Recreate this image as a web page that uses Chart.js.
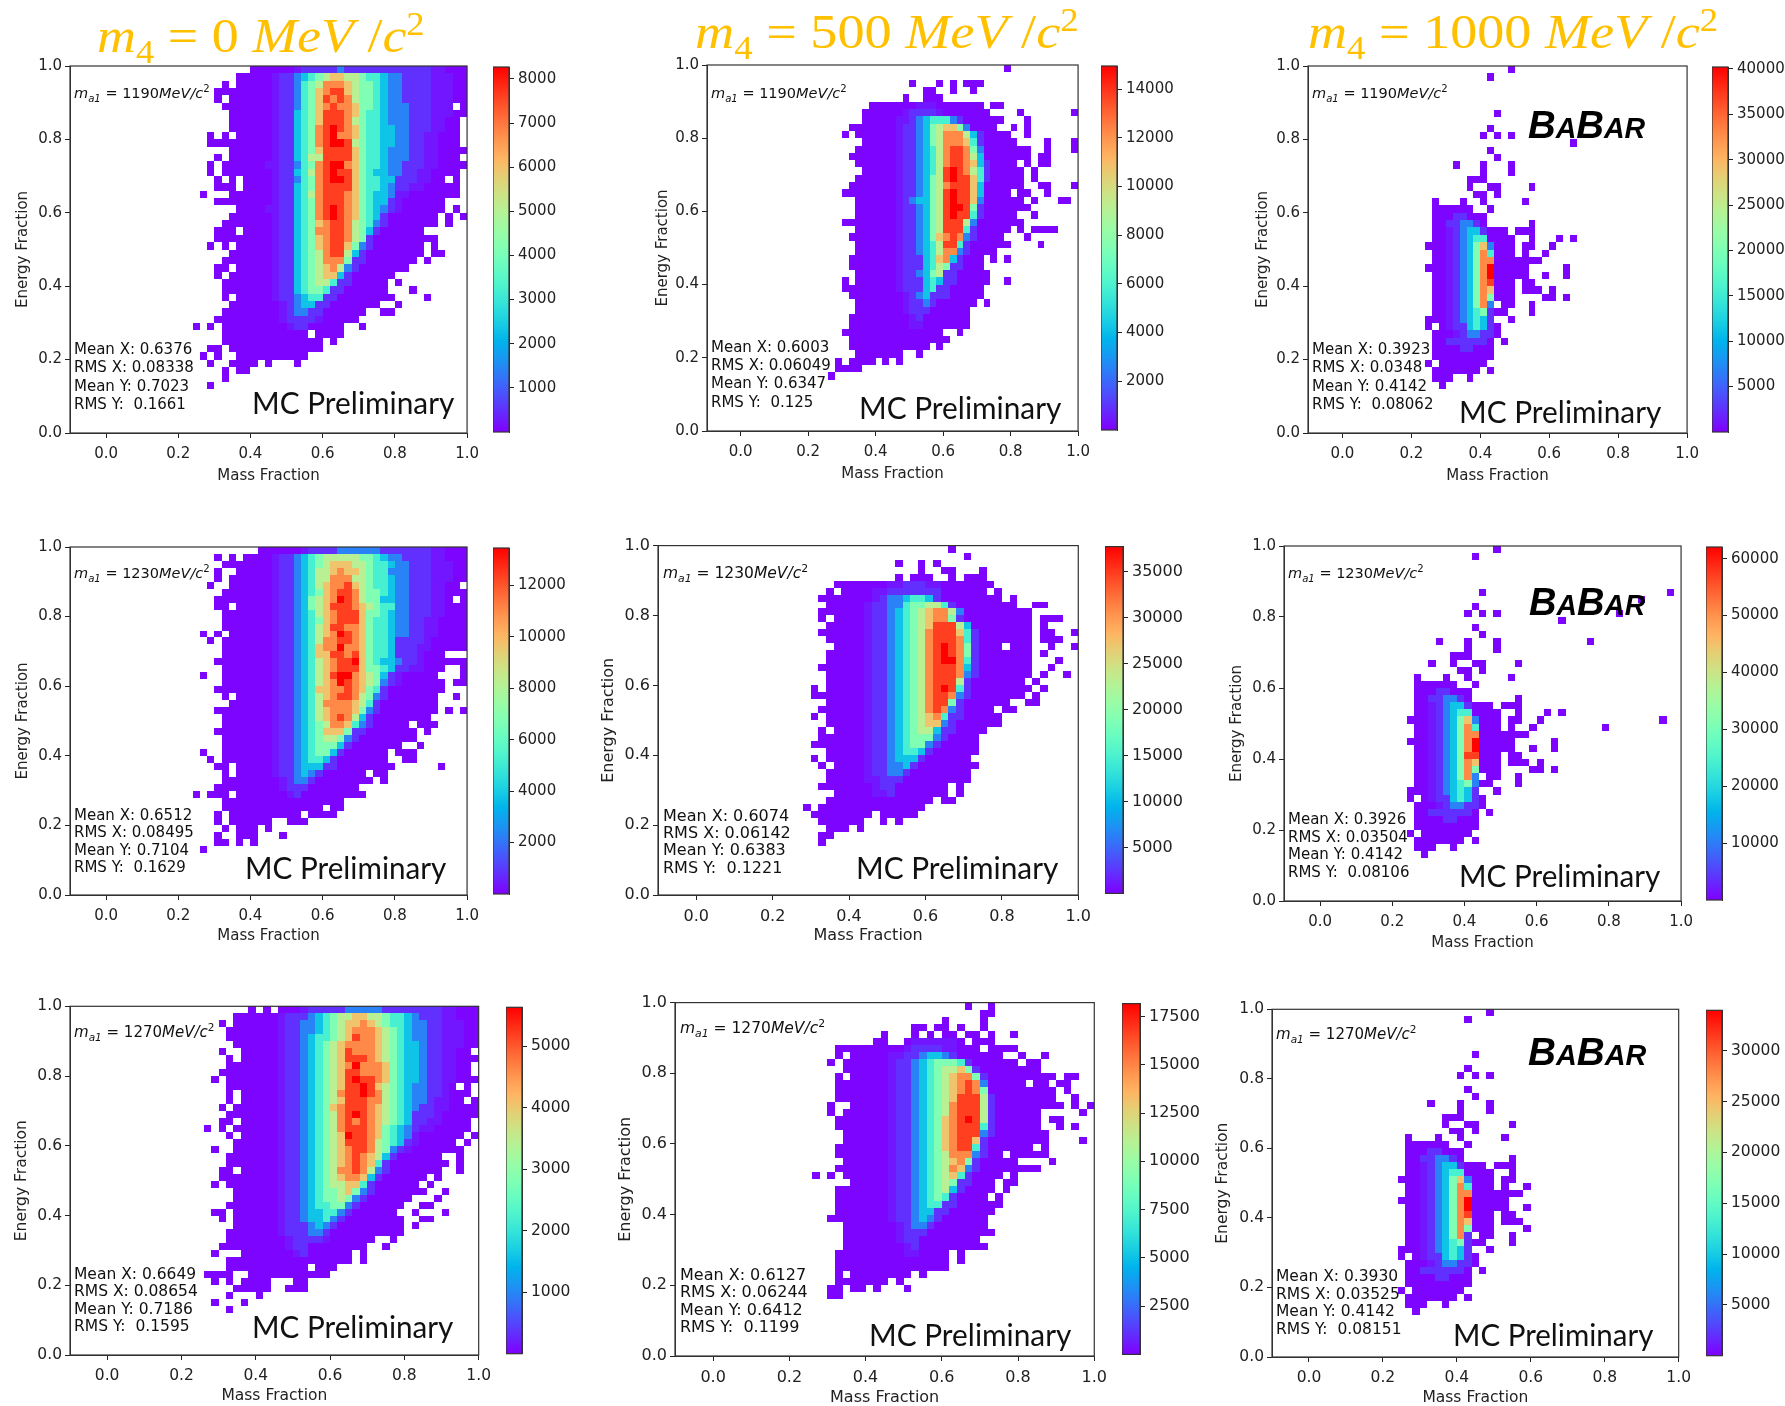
<!DOCTYPE html>
<html>
<head>
<meta charset="utf-8">
<title>Mass and energy fraction</title>
<script src="https://cdn.jsdelivr.net/npm/chart.js@4"></script>
<style>
html, body { margin: 0; padding: 0; background: #fff; }
#page { position: relative; width: 1785px; height: 1406px; overflow: hidden; }
canvas { position: absolute; }
.txt { position: absolute; white-space: pre; color: #111; font-family: "DejaVu Sans", sans-serif; transform-origin: left center; }
.txt sub, .txt sup { font-size: 70%; line-height: 0; }
.mc { font-family: Lato, "Open Sans", sans-serif; font-size: 31px; }
.head { font-family: "Liberation Serif", serif; font-size: 49px; color: #ffc000; }
.head sub, .head sup { font-size: 68%; }
.babar { font-family: "Liberation Sans", sans-serif; font-weight: bold; font-style: italic; font-size: 39px; color: #000; }
.babar small { font-size: 29px; }
</style>
</head>
<body>
<div id="page"></div>
<script>
// cell levels, one string per energy bin from the top (0.98-1.00) down
// columns are mass bins 0.24-1.00, grouped 12-19, 20-29, 30-39, 40-49; '.' = empty bin
// a character (hex) indexes levelShare below, which gives the share of the panel maximum
var levelShare = [0.005, 0.06, 0.17, 0.28, 0.39, 0.5, 0.61, 0.72, 0.82, 0.92, 1, 0.028];

var rows1190m0 = [
"........ 000000B111 1121111111 11111BB000",
"......00 000B112345 6776654432 21111BBB00",
"....0.00 000B112456 8887655432 21111BBB00",
"...00000 000B112457 8997655432 21111BBB00",
"...0.000 000B112457 9898655432 21111BBB00",
"....0000 000B112457 8988755432 22111BBB.0",
".....000 000B113457 9998754432 22111BBB00",
".....000 000B113457 9998654432 22111BB00.",
".....000 000B113458 9A98754433 22111BB00.",
"..0.0.00 000B113458 9A88754433 2211BB000.",
"..000000 000B113458 9AA9654433 2211BB000.",
".....000 000B113457 9999754432 2211BB0000",
"...0.000 000B113466 9999754432 2211BB000.",
"..0.0000 00BB112458 9AA8754432 2111BB0000",
"..0.0000 000B113468 9A99754332 211BB0000.",
"...0.0.0 000B112458 9AA9754433 111BB00.0.",
"...000.0 000B113458 9999754432 11BB00000.",
".0...000 000B113468 9998754332 BB0000000.",
"...00000 000B113458 9998754331 B000000...",
"......00 00BB113458 9A98754321 B000000.0.",
".....000 000B113458 9A98754310 000000.0.0",
"....0000 000B113457 8998654210 000000.0..",
"...000.0 000B113458 8998653100 0000......",
"...00000 000B113457 8998651000 000000....",
"..0.0.00 000B113457 8997521000 0000.0....",
".....000 000B113456 8996310000 0000.00...",
"....0000 000B113456 8885110000 000.0.....",
"...00.00 000B113456 7862100000 00........",
"...0.000 000B113456 7731000000",
"....0000 000B113456 641100000. 0",
"....0000 000B113455 411000000. ..0",
"....0.00 000B112344 1100000000 ....0",
".....000 0000B12331 10000000.. 0",
"....0000 0000B12211 000000..00",
"...00000 0000B1111B 00000",
"0.0.0000 00000B1100 000..0",
"....0000 00000000.0 000",
"....0000 0000000000 .0",
"..00.000 0000000000",
".0.0..00 00000000",
"..0..000 0.0...0",
"....0.00",
"....0",
"..0"
];
var rows1190m500 = [
"........ .......... .........0",
"",
"........ .....0...0 .0.000",
"........ .......00. .0..0",
"........ ....0..000",
".......0 000000BBB0 000000.00.",
"......00 0000B1111B 0000000... .0.......0",
"......00 000BB12344 421000000. ..0",
"....0000 000B112356 77520000.. 0.0",
"...0.000 000B112356 8886310000 ..0",
"......00 000B112356 8887410000 0....0...0",
".....000 000B112346 8998520000 000..0...0",
"....0000 000B112346 8998630000 000.00",
".....000 000B112346 8998731000 0.0.00",
"......00 000B112346 9A98641000 00.0",
".....000 000B112356 9A99741000 00.0",
"....0000 000B112356 8999730000 00..00...0",
"...00000 000B112356 9A99730000 .00..0",
".....000 000B123356 9A99720000 00.0...00",
".....000 000B112356 9AA9510000 000",
".....000 000B112356 9A99410000 0..0",
"...00000 000B112356 9996200000 00",
".....000 000B112356 9994100000 .0.0000",
"....0000 000B112357 898210000. ..0",
".....000 000B112346 9941000000 ....0",
".....000 000B112346 88210000",
"....0000 000B111347 831000.0.0",
"....0000 000B111346 511000",
".....000 000B112356 1100000",
"...0.000 000B111343 1100000..0",
"...00000 000B111341 100000",
"....0000 0000B12311 100000",
".....000 0000B11210 00000.0",
".....000 0000B11100 0000",
"....0000 00000B1000 0000",
"....0000 00000BB000 0000",
"...00000 0000000000 ..0",
"....0000 0000000000 0",
"....0000 00000000.0",
".....000 0000..0",
"..0.0000 .0.0",
"..0000",
".0"
];
var rows1190m1000 = [
"........ ....0",
"........ .0",
"", "", "", "",
"........ ..0",
"",
"........ .0",
"........ 0.0.0",
"........ .......... ...0",
"........ .0",
"........ ..0",
"....0... 0...0",
"........ 0...0",
"......00 0",
"......0. .00....0",
".......0 0.0",
".0...0.. 0.....0",
".000000. .0",
".0001100 0",
".0011221 0......0",
".00B1233 1000.000",
".00B1234 40000..0.. .0.0",
"000B1235 72000.00.. 0",
".00B1235 84000.0..0",
".00B1235 880000000",
"000B1235 8A00000... ..0",
".00B1235 8A00000..0 ..0",
".00B1235 89000.00",
".00B1235 87000.000. 0",
".00B1235 85000....0 0.0",
".00B1235 82.00..0",
".00B1234 5100...0",
"000B1234 31..0",
"0.0B1134 310",
".000B122 110",
".0011111 10.0",
".0000110 00",
".0000000 00",
"0.000000 0",
".0000000 .0",
".000..0",
"..0"
];
var rows1230m0 = [
"........ .000000B11 1122222211 11111BB000",
"...0.0.0 000B112345 6666655432 21111BB000",
"....0000 000B112345 6777665443 22111BBB00",
"...0..00 000B112346 6787765442 22111BBB00",
"...0.000 000B112346 6888665443 22111BBB00",
"..0..000 000B112346 7889765443 22111BB00.",
"....0000 000B112345 7899865543 22111BB000",
"...00000 000B112356 78A9865533 22111BB0.0",
"...00.00 000B112356 7999876544 22111BB000",
"....0000 000B112346 7899975543 22111BB000",
"....0000 000B112345 7899975443 2211BB0000",
"....0000 000B112346 7998875443 2211BB0000",
".0.0.000 000B112346 78A9875443 2211BB0000",
"..0.0000 000B112346 8899875443 1111B00000",
"....0000 000B112347 88A8875443 111BB00000",
"....0000 000B112347 7998975443 111B000...",
"...00000 000B112346 7899A75433 211B000000",
"....0000 000B112346 7899975543 11BB000..0",
".0..0000 000B112346 79AA876531 B00000...0",
"....0000 000B112346 78A9876521 B000000.00",
"...00000 000B112347 7889875410 0000000...",
"....0.00 000B112346 7899865210 000000..0.",
".....000 000B112346 8888764100 000000....",
"...00000 000B112346 7888752100 000000.0.0",
"....0000 000B112346 7898631000 00000",
"....0000 000B112345 6887421000 00.000",
"...00000 000B112345 7775110000 000.0",
"....0000 000B112345 6652100000 000",
"....0000 000B112345 5531000000 0..0",
".0..0000 000B112345 531000000. 000",
"..0.0000 000B112344 310000000. .00",
"...00.00 000B112333 1100000000 ......0",
"....0.00 000B112321 000000.00.",
"....0000 0000B12210 0000000.0.",
"...00000 0000B11100 00000",
"0.000.00 00000B1000 000000",
"....0000 0000000000 000",
"....0000 0000000000 .00",
"...0.000 0000000.00 00",
"...0.000 000..000",
"....0.00 0.0",
"...0..00 0...0",
"...00.0. 0",
".0"
];
var rows1230m500 = [
"........ .......... ...0",
"........ .......... .....0",
"........ ......0..0 .0",
"........ .........0 ..00...0",
"........ ......0.00 0..0.000",
"......00 00000BB111 BB0000000",
".....0.0 000BB11111 11000000.0",
"....0000 000B122344 3100000000 .0",
".....000 00B1122455 6641000000 00..00",
"....0000 00B1123456 7886200000 0000",
"....0.00 00B1123456 7885100000 0000.000",
".....000 00B1123456 7999630000 0000.0",
"....0000 00B1123456 8999741000 0000.00..0",
".....000 00B1123456 8999841000 0000.000",
"......00 00B1123456 89A9851000 .000..0..0",
".....000 00B1123456 89A9851000 0000.0",
".....000 00B1123456 89AA841000 0000...0",
"....0000 00B1123456 8999831000 0000..0",
".....000 00B1123456 8999821000 0000.0..0",
".....000 00B1123456 8999610000 000.0",
"...0.000 00B1123456 89A9410000 0000.0",
"...00000 00B1123456 8998210000 000.0",
".....000 00B1123456 8995100000 0..00",
"....0000 00B1123456 898210000. 00",
"...0.000 00B1123456 7841100000",
".....000 00B1123456 7721000000",
"....0.00 00B1123456 63110000",
"....0000 00B1123455 5210000",
"...00000 00B1123455 2100000",
".....000 00B1123443 1000000",
"...0.000 00B1123331 000000",
"....0.00 00B1122310 0000000",
".....000 00B1122100 000000",
".....000 00BB111000 000000",
"....0000 000B110000 000.0",
"......00 000BB10000 000.0",
".....000 0000000000 0.00",
"..0.0000 0000000000",
"...00000 000.00000",
"....0000 00..0.0",
".....000 .0",
"....00",
"....0"
];
var rows1230m1000 = [
"........ ....0",
"........ .0",
"", "", "", "",
"........ ..0....... .......... ........0",
"........ .......... .......... ....0",
"........ .0",
"........ 0.0.0..... .......... .0",
"........ .......... ...0",
"........ .0",
"........ ..0",
"....0... 0...0..... .......0",
"........ 0...0",
"......00 0",
"...0..0. .00....0",
".......0 0.0",
".0...0.. 0.....0",
".000000. .0",
".0001100 0",
".0011221 0......0",
".00B1233 1000.000",
".00B1234 40000..0.. .0.0",
"000B1235 72000.00.. 0......... .......0",
".00B1235 84000.0..0 .........0",
".00B1235 880000000",
"000B1235 8A00000... ..0",
".00B1235 8A00000..0 ..0",
".00B1235 99000.00",
".00B1235 87000.000. 0",
".00B1235 85000....0 0.0",
".00B1235 82.00..0",
".00B1234 5200...0",
"000B1234 31..0",
"0.0B1134 310",
".000B122 110",
".0011111 10.0",
".0000110 00",
".0000000 00",
"0.000000 0",
".0000000 .0",
".000..0",
"..0"
];
var rows1270m0 = [
".......0 .0.000B111 1122222111 11111BB000",
".....000 000B111234 5667766544 32111BB000",
"...0.000 000B112234 5677876544 32211BBB00",
"....0000 000B112234 5678887654 32211BBB00",
"....0000 000B112344 5679887654 32211BBB00",
".....000 000B112345 6788887654 33211BBB00",
"...0..00 000B112345 6798887654 33211BB00.",
"....0.00 000B112345 6799987654 33211BB000",
"....0000 000B112345 678A888754 33211BB00.",
"...00000 000B112345 6799888754 33211BB00.",
"..0.0000 000B112345 679A998754 33211BB000",
"....0000 000B112345 6799A97654 32211B0.0.",
"....0.00 000B112345 6899A98654 32211B000.",
"....0.00 000B112345 6799988654 3221BB00.0",
"...0.000 000B112345 7899987654 3211BB0000",
"....0000 000B112345 689A987654 3111B00000",
"...00.00 000B112345 6898987654 311BB0000.",
".0.0.000 000B112345 6899987543 21BB00000.",
"....0.00 000B112345 67A9987543 2B000000.0",
".....000 000B112345 6799986543 1B00000.0.",
"..0..000 000B112345 6789986521 B0000000..",
"....0000 000B112345 6789876310 00000..0..",
"....0000 000B112345 6789874100 000000.0..",
"...00.00 000B112345 6889862100 00000..0..",
"...00000 000B112345 6788731000 000.0.....",
"..0.0000 000B112345 6677410000 00.0......",
".....000 000B112345 5675210000 000..0....",
".....000 000B112345 5652100000 0...0.....",
"....0000 000B112344 5521000000 ..00",
"..00.000 000B112334 421000000. .0...0",
"...0.000 000B112334 2100000000 ..00",
".....000 000B111232 1000000000 .0",
"....0000 000B111221 0000000000",
"....0000 0000B1111B 000000..0.",
"...00000 0000B11000 00000..0",
"..0...00 00000B1000 000.0",
"....0000 0000000000 000.0",
"....0000 0000000.00 0",
".0000..0 0000000000",
"..0.0.00 00...00",
".....000 00..000",
"....0... 0",
"..0...0",
"....0"
];
var rows1270m500 = [
"........ .......... ...0..0",
"........ .......... .....00",
"........ .......... 0....0",
"........ ......00.0 0.0..0",
"........ ..0...0.0. 00.00.0..0",
"........ .00..0BBBB BB0.000",
"....0000 00000B1111 BB000.0000",
"....0.00 000BB11233 21000000.. 0..0",
"...0.000 000B112345 5541000000 .00",
".....000 000B112345 6675100000 000",
"....0.00 000B112345 6788510000 00000.00",
"....0000 000B112345 6789820000 0.00.00",
"....0000 000B112345 6789850000 00000.0",
"....0000 000B112345 6799961000 00000..0",
"...0..00 000B112345 6899961000 000000.0.0",
"...0.000 000B112345 6899961000 000.....0",
"....0000 000B112345 789A961000 000.00",
"....0000 000B112345 7899941000 000..0.0",
".....000 000B112345 7899921000 0000",
".....000 000B112345 7899710000 0000....0",
"....0000 000B112345 7899410000 00.0",
"....0000 000B112345 68882100.0 0000",
".....000 000B112345 6785100000 ....0",
"....0000 000B112345 6872100000 000",
".0.0.000 000B112345 67410000.0",
"......00 000B112345 6511000.00",
"....0000 000B112345 6310000.0",
"....0000 000B112345 410000.0",
"....0000 000B112344 11000000",
"....0000 000B112331 1000000",
"...00000 000B112321 000000",
".....000 0000B12210 000000",
".....000 0000B11100 0000000",
".....000 0000B11000 00000",
".....000 00000B1000 000000",
"....0000 00000BB000 0.0",
"....0000 0000000000 0.0",
"....0000 0000000000 0",
"....0.00 000000.0",
"....0000 000.0",
"...00.00 .0...0",
"...00"
];
var rows1270m1000 = [
"........ ....0",
"........ .0",
"", "", "", "",
"........ ..0",
"",
"........ .0",
"........ 0.0.0",
"",
"........ .0",
"........ ..0",
"....0... 0...0",
"........ 0...0",
"......00 0",
"......0. .00....0",
".......0 0.0",
".0...0.. 0.....0",
".000000. .0",
".0001100 0",
".0011221 0......0",
".00B1233 1000.000",
".00B1234 40000..0",
"000B1235 72000.00",
".00B1235 84000.0..0",
".00B1235 880000000",
"000B1235 8A00000",
".00B1235 8A00000..0",
".00B1235 89000.00",
".00B1235 87000.000",
".00B1235 85000....0",
".00B1235 81.00..0",
".00B1234 5100...0",
"000B1234 31..0",
"0.0B1134 310",
".000B122 110",
".0011111 10.0",
".0000110 00",
".0000000 00",
"0.000000 0",
".0000000 .0",
".000..0",
"..0"
];

var maxCounts = [8270, 14950, 40200, 13450, 37700, 62050, 5634, 18170, 33980];
var barTicks = [
  [1000, 2000, 3000, 4000, 5000, 6000, 7000, 8000],
  [2000, 4000, 6000, 8000, 10000, 12000, 14000],
  [5000, 10000, 15000, 20000, 25000, 30000, 35000, 40000],
  [2000, 4000, 6000, 8000, 10000, 12000],
  [5000, 10000, 15000, 20000, 25000, 30000, 35000],
  [10000, 20000, 30000, 40000, 50000, 60000],
  [1000, 2000, 3000, 4000, 5000],
  [2500, 5000, 7500, 10000, 12500, 15000, 17500],
  [5000, 10000, 15000, 20000, 25000, 30000]
];
var xTicks = [0, 0.2, 0.4, 0.6, 0.8, 1];
var yTicks = [0, 0.2, 0.4, 0.6, 0.8, 1];
var m1Labels = ["1190", "1190", "1190", "1230", "1230", "1230", "1270", "1270", "1270"];
var stats = [
  ["0.6376", "0.08338", "0.7023", "0.1661"],
  ["0.6003", "0.06049", "0.6347", "0.125"],
  ["0.3923", "0.0348", "0.4142", "0.08062"],
  ["0.6512", "0.08495", "0.7104", "0.1629"],
  ["0.6074", "0.06142", "0.6383", "0.1221"],
  ["0.3926", "0.03504", "0.4142", "0.08106"],
  ["0.6649", "0.08654", "0.7186", "0.1595"],
  ["0.6127", "0.06244", "0.6412", "0.1199"],
  ["0.3930", "0.03525", "0.4142", "0.08151"]
];
var m4Labels = ["0", "500", "1000"];

var allRows = [rows1190m0, rows1190m500, rows1190m1000, rows1230m0, rows1230m500, rows1230m1000, rows1270m0, rows1270m500, rows1270m1000];

// page layout, pixels: plot box, colour bar, axis title offsets, text anchors
var layouts = [
  { plot: [70, 66, 468, 433], bar: [493, 509], yt: 47, xt: 43, font: 15, statX: 74, statY: 349, statLh: 18.3, mY: 93, mc: [252, 454, 402] },
  { plot: [707, 65, 1079, 431], bar: [1101, 1117], yt: 44, xt: 43, font: 15, statX: 711, statY: 347, statLh: 18.2, mY: 93, mc: [859, 1061, 407] },
  { plot: [1308, 66, 1688, 433], bar: [1712, 1728], yt: 45, xt: 43, font: 15, statX: 1312, statY: 349, statLh: 18.3, mY: 93, mc: [1459, 1661, 411], babar: [1528, 1645, 125] },
  { plot: [70, 547, 468, 895], bar: [493, 509], yt: 47, xt: 41, font: 15, statX: 74, statY: 815, statLh: 17.4, mY: 573, mc: [245, 446, 867] },
  { plot: [658, 545, 1080, 895], bar: [1105, 1123], yt: 50, xt: 41, font: 16, statX: 663, statY: 815, statLh: 17.4, mY: 573, mc: [856, 1058, 867] },
  { plot: [1284, 546, 1682, 901], bar: [1706, 1722], yt: 47, xt: 42, font: 15, statX: 1288, statY: 819, statLh: 17.7, mY: 573, mc: [1459, 1660, 875], babar: [1529, 1645, 602] },
  { plot: [70, 1006, 480, 1355], bar: [506, 522], yt: 48, xt: 41, font: 15.5, statX: 74, statY: 1274, statLh: 17.4, mY: 1032, mc: [252, 453, 1326] },
  { plot: [675, 1002, 1096, 1356], bar: [1122, 1140], yt: 50, xt: 42, font: 16, statX: 680, statY: 1274, statLh: 17.5, mY: 1028, mc: [869, 1071, 1334] },
  { plot: [1272, 1009, 1680, 1357], bar: [1706, 1722], yt: 49, xt: 41, font: 15.5, statX: 1276, statY: 1276, statLh: 17.6, mY: 1034, mc: [1453, 1653, 1334], babar: [1528, 1646, 1052] }
];
var headLayouts = [[97, 425, 35], [695, 1079, 31], [1308, 1718, 31]];

var page = document.getElementById('page');
var binSize = 0.02;

function rainbow(t) {
  var r = Math.abs(2 * t - 0.5);
  var g = Math.sin(Math.PI * t);
  var b = Math.cos(Math.PI * t / 2);
  return 'rgb(' + Math.round(255 * Math.min(r, 1)) + ',' + Math.round(255 * g) + ',' + Math.round(255 * b) + ')';
}

function cellsFrom(rows, vmax) {
  var cells = [];
  rows.forEach(function (row, r) {
    row.replace(/ /g, '').split('').forEach(function (ch, i) {
      if (ch === '.') return;
      cells.push({
        x: (12 + i + 0.5) * binSize,
        y: (49 - r + 0.5) * binSize,
        v: levelShare[parseInt(ch, 16)] * vmax
      });
    });
  });
  return cells;
}

var heatPlugin = {
  id: 'heat',
  beforeDatasetsDraw: function (chart) {
    var c = chart.ctx, xs = chart.scales.x, ys = chart.scales.y;
    var vmax = chart.options.plugins.heat.vmax;
    chart.data.datasets[0].data.forEach(function (p) {
      var l = Math.round(xs.getPixelForValue(p.x - binSize / 2));
      var r = Math.round(xs.getPixelForValue(p.x + binSize / 2));
      var t = Math.round(ys.getPixelForValue(p.y + binSize / 2));
      var b = Math.round(ys.getPixelForValue(p.y - binSize / 2));
      c.fillStyle = rainbow(p.v / vmax);
      c.fillRect(l, t, r - l, b - t);
    });
  }
};

var framePlugin = {
  id: 'frame',
  afterDraw: function (chart) {
    var a = chart.chartArea, c = chart.ctx;
    c.save();
    c.strokeStyle = '#333';
    c.lineWidth = 1.2;
    c.strokeRect(a.left, a.top, a.right - a.left, a.bottom - a.top);
    c.restore();
  }
};

function place(canvas, left, top, width, height) {
  canvas.width = width;
  canvas.height = height;
  canvas.style.left = left + 'px';
  canvas.style.top = top + 'px';
  page.appendChild(canvas);
}

function addText(html, left, midY, cls, fontPx, targetRight) {
  var d = document.createElement('div');
  d.className = 'txt ' + (cls || '');
  d.innerHTML = html;
  d.style.left = left + 'px';
  if (fontPx) d.style.fontSize = fontPx + 'px';
  page.appendChild(d);
  d.style.top = (midY - d.offsetHeight / 2) + 'px';
  if (targetRight) {
    d.style.transform = 'scaleX(' + ((targetRight - left) / d.offsetWidth) + ')';
  }
  return d;
}

function drawPanel(i) {
  var lay = layouts[i], vmax = maxCounts[i];
  var pl = lay.plot[0], pt = lay.plot[1], pr = lay.plot[2], pb = lay.plot[3];
  var yw = lay.yt + 9, xh = lay.xt + 9;
  var font = { family: '"DejaVu Sans"', size: lay.font };

  var heat = document.createElement('canvas');
  place(heat, pl - yw, pt - 12, yw + (pr - pl) + 18, 12 + (pb - pt) + xh);
  new Chart(heat, {
    type: 'scatter',
    data: { datasets: [{ data: cellsFrom(allRows[i], vmax), pointRadius: 0 }] },
    plugins: [heatPlugin, framePlugin],
    options: {
      responsive: false,
      animation: false,
      layout: { autoPadding: false, padding: { top: 12, right: 18, left: 0, bottom: 0 } },
      plugins: { legend: { display: false }, tooltip: { enabled: false }, heat: { vmax: vmax } },
      scales: {
        x: {
          type: 'linear', min: -0.1, max: 1,
          afterBuildTicks: function (s) { s.ticks = xTicks.map(function (v) { return { value: v }; }); },
          afterFit: function (s) { s.height = xh; },
          grid: { drawOnChartArea: false, tickLength: 5, color: '#222' },
          border: { color: '#333' },
          ticks: { autoSkip: false, maxRotation: 0, padding: 7, color: '#222', font: font, callback: function (v) { return v.toFixed(1); } },
          title: { display: true, text: 'Mass Fraction', color: '#222', font: font, padding: 0 }
        },
        y: {
          type: 'linear', min: 0, max: 1,
          afterBuildTicks: function (s) { s.ticks = yTicks.map(function (v) { return { value: v }; }); },
          afterFit: function (s) { s.width = yw; },
          grid: { drawOnChartArea: false, tickLength: 5, color: '#222' },
          border: { color: '#333' },
          ticks: { autoSkip: false, padding: 3, color: '#222', font: font, callback: function (v) { return v.toFixed(1); } },
          title: { display: true, text: 'Energy Fraction', color: '#222', font: font, padding: 0 }
        }
      }
    }
  });

  var bar = document.createElement('canvas');
  var bw = lay.bar[1] - lay.bar[0];
  place(bar, lay.bar[0], pt - 12, bw + 72, (pb - pt) + 24);
  new Chart(bar, {
    type: 'bar',
    data: {
      labels: [''],
      datasets: [{
        data: [vmax], barPercentage: 1, categoryPercentage: 1,
        backgroundColor: function (ctx) {
          var a = ctx.chart.chartArea;
          if (!a) return rainbow(0);
          var g = ctx.chart.ctx.createLinearGradient(0, a.bottom, 0, a.top);
          for (var k = 0; k <= 20; k++) g.addColorStop(k / 20, rainbow(k / 20));
          return g;
        }
      }]
    },
    plugins: [framePlugin],
    options: {
      responsive: false,
      animation: false,
      layout: { autoPadding: false, padding: { top: 12, bottom: 12, left: 0, right: 0 } },
      plugins: { legend: { display: false }, tooltip: { enabled: false } },
      scales: {
        x: { display: false },
        y: {
          position: 'right', min: 0, max: vmax,
          afterBuildTicks: function (s) { s.ticks = barTicks[i].map(function (v) { return { value: v }; }); },
          afterFit: function (s) { s.width = 72; },
          grid: { drawOnChartArea: false, tickLength: 5, color: '#222' },
          border: { color: '#333' },
          ticks: { autoSkip: false, padding: 4, color: '#222', font: font, callback: function (v) { return String(v); } }
        }
      }
    }
  });

  // text on top of the charts
  addText('<i>m</i><sub><i>a1</i></sub> = ' + m1Labels[i] + '<i>MeV/c</i><sup>2</sup>', lay.statX, lay.mY, '', lay.font - 0.5);
  var s = stats[i];
  ['Mean X: ' + s[0], 'RMS X: ' + s[1], 'Mean Y: ' + s[2], 'RMS Y:  ' + s[3]].forEach(function (line, k) {
    addText(line, lay.statX, lay.statY + k * lay.statLh, '', lay.font);
  });
  addText('MC Preliminary', lay.mc[0], lay.mc[2], 'mc', null, lay.mc[1]);
  if (lay.babar) {
    addText('B<small>A</small>B<small>A</small><small>R</small>', lay.babar[0], lay.babar[2], 'babar', null, lay.babar[1]);
  }
}

for (var i = 0; i < layouts.length; i++) drawPanel(i);

m4Labels.forEach(function (m, k) {
  var h = headLayouts[k];
  addText('<i>m</i><sub>4</sub> = ' + m + ' <i>MeV</i> /<i>c</i><sup>2</sup>', h[0], h[2], 'head', null, h[1]);
});
</script>
</body>
</html>
